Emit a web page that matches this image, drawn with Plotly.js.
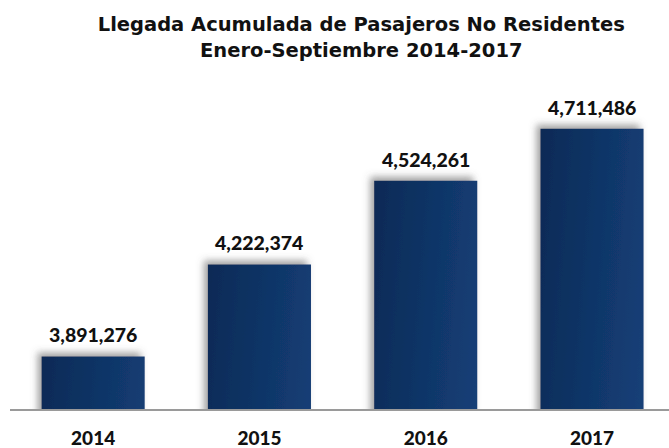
<!DOCTYPE html>
<html>
<head>
<meta charset="utf-8">
<script src="https://cdn.plot.ly/plotly-3.0.1.min.js"></script>
<style>html,body{margin:0;padding:0;background:#fff;}#chart{width:669px;height:448px;}</style>
</head>
<body>
<div id="chart"></div>
<script>
const years = ["2014", "2015", "2016", "2017"];
const arrivals = [3891276, 4222374, 4524261, 4711486];
const valueLabels = ["3,891,276", "4,222,374", "4,524,261", "4,711,486"];

const fontFam = "Lato, 'Open Sans', sans-serif";
const titleFam = "'DejaVu Sans', sans-serif";

const trace = {
  type: "bar",
  x: years,
  y: arrivals,
  width: 0.62,
  marker: { color: "#164380", line: { width: 0 } },
  hoverinfo: "skip"
};

const annotations = years.map((yr, i) => ({
  x: i, y: arrivals[i], xref: "x", yref: "y",
  text: valueLabels[i], showarrow: false,
  yanchor: "bottom", yshift: 8,
  font: { family: fontFam, size: 19.5, color: "#111", weight: 900 }
}));

const layout = {
  width: 669, height: 448,
  margin: { l: 10, r: 0, t: 80, b: 39 },
  paper_bgcolor: "#fff", plot_bgcolor: "#fff",
  title: {
    text: "<b>Llegada Acumulada de Pasajeros No Residentes<br>Enero-Septiembre 2014-2017</b>",
    font: { family: titleFam, size: 19.5, color: "#111" },
    x: 0.54, xanchor: "center", y: 0.93, yanchor: "middle", yref: "container"
  },
  xaxis: {
    type: "category",
    range: [-0.5, 3.463],
    showline: true, linecolor: "#9a9a9a", linewidth: 1.5,
    showgrid: false, zeroline: false,
    ticks: "", ticklabelstandoff: 12,
    tickfont: { family: fontFam, size: 19, color: "#111", weight: 900 }
  },
  yaxis: {
    range: [3701795, 4886954],
    visible: false, showgrid: false, zeroline: false
  },
  annotations: annotations,
  showlegend: false
};

Plotly.newPlot("chart", [trace], layout, { displayModeBar: false, staticPlot: true }).then(() => {
  const svg = document.querySelector("#chart svg.main-svg");
  const ns = "http://www.w3.org/2000/svg";
  let defs = svg.querySelector("defs");
  if (!defs) { defs = document.createElementNS(ns, "defs"); svg.insertBefore(defs, svg.firstChild); }
  const grad = document.createElementNS(ns, "linearGradient");
  grad.setAttribute("id", "barGrad");
  grad.setAttribute("x1", "0"); grad.setAttribute("y1", "0");
  grad.setAttribute("x2", "1"); grad.setAttribute("y2", "1");
  [["0", "#0b2a56"], ["1", "#1b4e8e"]].forEach(([o, c]) => {
    const s = document.createElementNS(ns, "stop");
    s.setAttribute("offset", o); s.setAttribute("stop-color", c);
    grad.appendChild(s);
  });
  defs.appendChild(grad);
  const filt = document.createElementNS(ns, "filter");
  filt.setAttribute("id", "barShadow");
  filt.setAttribute("x", "-30%"); filt.setAttribute("y", "-30%");
  filt.setAttribute("width", "160%"); filt.setAttribute("height", "160%");
  const ds = document.createElementNS(ns, "feDropShadow");
  ds.setAttribute("dx", "-4"); ds.setAttribute("dy", "-4");
  ds.setAttribute("stdDeviation", "3.5");
  ds.setAttribute("flood-color", "#555"); ds.setAttribute("flood-opacity", "0.55");
  filt.appendChild(ds);
  defs.appendChild(filt);
  document.querySelectorAll("#chart .bars .point path").forEach(p => {
    p.style.fill = "url(#barGrad)";
    p.setAttribute("filter", "url(#barShadow)");
  });
});
</script>
</body>
</html>
